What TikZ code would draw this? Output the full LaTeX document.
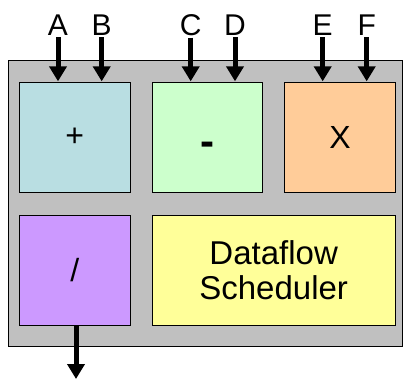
\documentclass[tikz,border=0pt]{standalone}
\usepackage{fontspec}
\setmainfont{Liberation Sans}
\usetikzlibrary{arrows.meta}
\definecolor{chipgray}{RGB}{192,192,192}
\definecolor{addblue}{RGB}{185,222,226}
\definecolor{subgreen}{RGB}{204,255,204}
\definecolor{mulorange}{RGB}{255,204,153}
\definecolor{divpurple}{RGB}{204,153,255}
\definecolor{schedyellow}{RGB}{255,255,153}
\tikzset{
  unitbox/.style={draw=black, line width=1pt, minimum width=110.5pt, minimum height=110.5pt, inner sep=0pt, font=\fontsize{32}{36}\selectfont},
  portlabel/.style={inner sep=2pt, font=\fontsize{30}{34}\selectfont},
  dataarrow/.style={line width=5pt, -{Triangle[width=17pt,length=15pt]}, shorten >=0.5pt}
}
\begin{document}
\begin{tikzpicture}[x=1pt,y=1pt]
\useasboundingbox (0,0) rectangle (403,380);
% processor outline
\node[draw=black, line width=1.2pt, fill=chipgray, minimum width=394pt, minimum height=286pt, inner sep=0pt] (chip) at (205.5,176.4) {};
% functional units
\node[unitbox, fill=addblue] (add) at (74.75,242.4) {\raisebox{-1pt}{+}};
\node[unitbox, fill=subgreen, text height=0pt, text depth=0pt] (sub) at (207.35,242.4) {\raisebox{-17.5pt}{\fontsize{42}{46}\selectfont\bfseries -}};
\node[unitbox, fill=mulorange] (mul) at (340,242.4) {X};
\node[unitbox, fill=divpurple] (div) at (74.75,109.6) {/};
\node[draw=black, line width=1pt, fill=schedyellow, minimum width=243.3pt, minimum height=110.5pt, inner sep=0pt, align=center, font=\fontsize{33}{35}\selectfont] (sched) at (273.65,109.6) {Dataflow\\Scheduler};
% operand labels
\node[portlabel] (A) at (58,355.3) {A};
\node[portlabel] (B) at (101.7,355.3) {B};
\node[portlabel] (C) at (190.7,355.3) {C};
\node[portlabel] (D) at (235,355.3) {D};
\node[portlabel] (E) at (322.7,355.3) {E};
\node[portlabel] (F) at (366.7,355.3) {F};
% operand arrows
\draw[dataarrow] (A.south) -- (A.south |- add.north);
\draw[dataarrow] (B.south) -- (B.south |- add.north);
\draw[dataarrow] (C.south) -- (C.south |- sub.north);
\draw[dataarrow] (D.south) -- (D.south |- sub.north);
\draw[dataarrow] (E.south) -- (E.south |- mul.north);
\draw[dataarrow] (F.south) -- (F.south |- mul.north);
% result arrow
\coordinate (out) at (76,0.5);
\draw[dataarrow] (div.south -| out) -- (out);
\end{tikzpicture}
\end{document}
